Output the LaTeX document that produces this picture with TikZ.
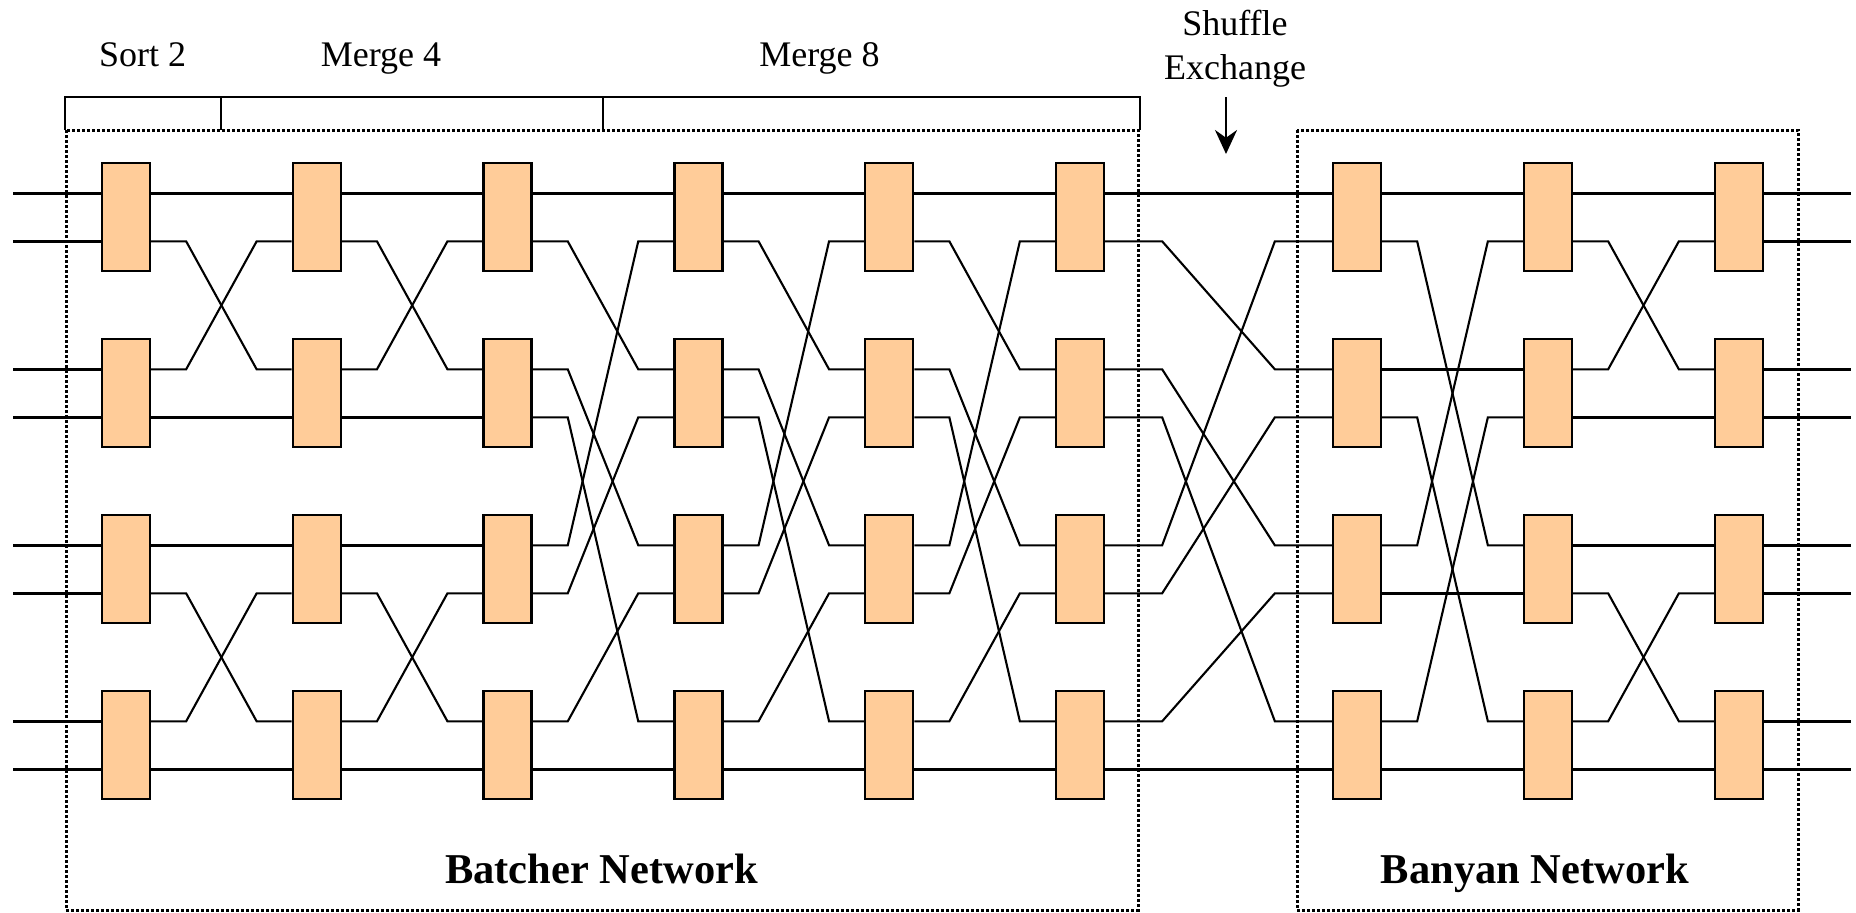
\documentclass[tikz,border=0pt]{standalone}
\usepackage{fontspec}
\setmainfont{Liberation Serif}
\usetikzlibrary{calc,arrows.meta}
\definecolor{cellfill}{HTML}{FFCC99}

% connects the outputs of column #1 to the inputs of column #2;
% #3 = length of the horizontal stubs, #4 = list of output/input wire pairs
\newcommand\linkstage[4]{%
  \foreach \i/\j in {#4} {%
    \ifnum\i=\j
      \draw[straightwire] (O#1-\i) -- (I#2-\j);
    \else
      \draw[wire] (O#1-\i) -- ++(#3,0) -- ($(I#2-\j)+(-#3,0)$) -- (I#2-\j);
    \fi
  }}

\begin{document}
\begin{tikzpicture}[x=0.5pt,y=-0.5pt,
  cell/.style={draw=black,line width=1.15pt,fill=cellfill,
    minimum width=24pt,minimum height=54pt,inner sep=0pt},
  wire/.style={line width=1.05pt,line join=miter},
  straightwire/.style={line width=1.45pt},
  ioline/.style={line width=1.5pt},
  region/.style={line width=1.5pt,dash pattern=on 1.5pt off 1pt},
  bracket/.style={line width=1.3pt},
  pointer/.style={line width=1.4pt,-{Stealth[length=12pt,width=11pt]}},
  stage/.style={font=\fontsize{18}{21.6}\selectfont,anchor=base,inner sep=0pt},
  netname/.style={font=\fontsize{21.25}{25}\selectfont\bfseries,anchor=base,inner sep=0pt}
]
\useasboundingbox (0,0) rectangle (1856,912);

% dotted outlines of the two networks
\draw[region] (66,130) rectangle (1138,910);
\draw[region] (1297,130) rectangle (1798,910);

% stage bracket above the Batcher network
\draw[bracket] (65,130) -- (65,97) -- (1140,97) -- (1140,130);
\draw[bracket] (221,97) -- (221,130);
\draw[bracket] (603,97) -- (603,130);

% stage labels
\node[stage] (sort2)  at (142.6,66.7) {Sort 2};
\node[stage] (merge4) at (381,66.7)   {Merge 4};
\node[stage] (merge8) at (819.5,66.7) {Merge 8};
\node[stage] (shuf)   at (1235,35.7)  {Shuffle};
\node[stage] (exch)   at (1235,79)    {Exchange};

% arrow marking the shuffle-exchange wiring
\coordinate (sxtop) at (1226,97);
\coordinate (sxtip) at (1226,154);
\draw[pointer] (sxtop) -- (sxtip);

% 2x2 switching elements: columns 1-6 Batcher, 7-9 Banyan
\foreach \c/\x in {1/126,2/316.8,3/507.6,4/698.4,5/889.2,6/1080,7/1357,8/1548,9/1739}
  \foreach \r/\y in {0/217.3,1/393.3,2/569.3,3/745.3}
    \node[cell] (B\c-\r) at (\x,\y) {};

% input (I) and output (O) ports of every element, wires 0..7
\foreach \c in {1,...,9}
  \foreach \w in {0,...,7} {
    \pgfmathtruncatemacro\r{\w/2}
    \pgfmathsetmacro\dy{24*(2*mod(\w,2)-1)}
    \coordinate (I\c-\w) at ($(B\c-\r.west)+(0,\dy)$);
    \coordinate (O\c-\w) at ($(B\c-\r.east)+(0,\dy)$);
  }

% free ends of the external lines
\coordinate (leftedge) at (13,0);
\coordinate (rightedge) at (1851,0);
\foreach \w in {0,...,7} {
  \coordinate (in\w) at (I1-\w -| leftedge);
  \coordinate (out\w) at (O9-\w -| rightedge);
  \draw[ioline] (in\w) -- (I1-\w);
  \draw[ioline] (O9-\w) -- (out\w);
}

% Batcher sorting network
\linkstage{1}{2}{35}{0/0,1/2,2/1,3/3,4/4,5/6,6/5,7/7}
\linkstage{2}{3}{35}{0/0,1/2,2/1,3/3,4/4,5/6,6/5,7/7}
\linkstage{3}{4}{35}{0/0,1/2,2/4,3/6,4/1,5/3,6/5,7/7}
\linkstage{4}{5}{35}{0/0,1/2,2/4,3/6,4/1,5/3,6/5,7/7}
\linkstage{5}{6}{35}{0/0,1/2,2/4,3/6,4/1,5/3,6/5,7/7}
% shuffle exchange between the networks
\linkstage{6}{7}{57}{0/0,1/2,2/4,3/6,4/1,5/3,6/5,7/7}
% Banyan network
\linkstage{7}{8}{35}{0/0,1/4,2/2,3/6,4/1,5/5,6/3,7/7}
\linkstage{8}{9}{35}{0/0,1/2,2/1,3/3,4/4,5/6,6/5,7/7}

% network names
\node[netname] (batname) at (601.5,883) {Batcher Network};
\node[netname] (banname) at (1535,883)  {Banyan Network};
\end{tikzpicture}
\end{document}
